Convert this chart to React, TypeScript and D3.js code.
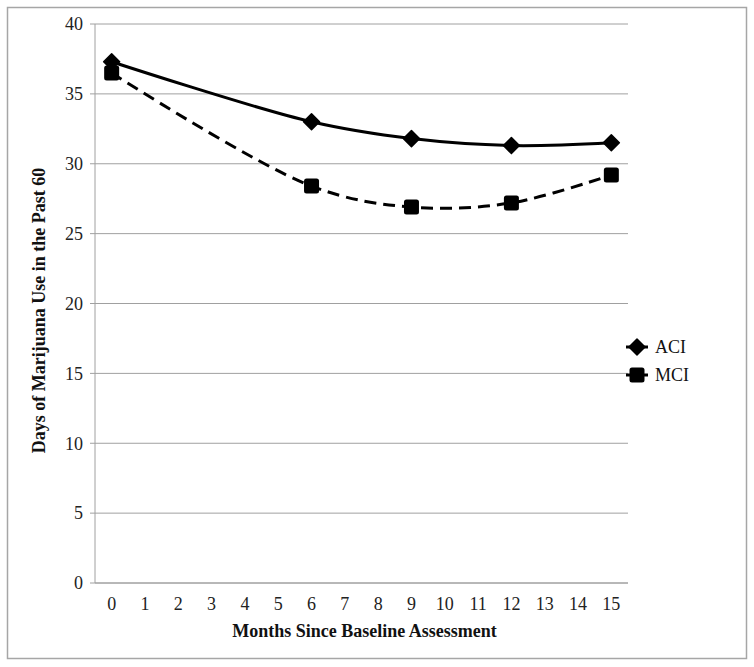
import React from "react";
import * as d3 from "d3";

const categories = ["0","1","2","3","4","5","6","7","8","9","10","11","12","13","14","15"];
const months = [0, 6, 9, 12, 15];
const aciValues = [37.3, 33.0, 31.8, 31.3, 31.5];
const mciValues = [36.5, 28.4, 26.9, 27.2, 29.2];
const yTicks = [0, 5, 10, 15, 20, 25, 30, 35, 40];
const seriesNames = ["ACI", "MCI"];

const W = 754, H = 667;
const L = 95, R = 628, T = 24, B = 583;

export default function App() {
  const x = d3.scaleBand<string>().domain(categories).range([L, R]);
  const xc = (m: number) => (x(String(m)) as number) + x.bandwidth() / 2;
  const y = d3.scaleLinear().domain([0, 40]).range([B, T]);
  const line = d3.line<number>()
    .x((_, i) => xc(months[i]))
    .y((d) => y(d))
    .curve(d3.curveCatmullRom.alpha(0.5));
  const font = "Liberation Serif, serif";
  const diamond = (cx: number, cy: number, r: number) =>
    `M${cx},${cy - r}L${cx + r},${cy}L${cx},${cy + r}L${cx - r},${cy}Z`;
  return (
    <svg width={W} height={H} style={{ position: "absolute", left: 0, top: 0, fontFamily: font }}>
      <rect x={0} y={0} width={W} height={H} fill="#fff" />
      <rect x={7.5} y={7.5} width={739} height={651} fill="#fff" stroke="#a6a6a6" strokeWidth={1.5} />
      {yTicks.map((t) => (
        <g key={t}>
          <line x1={L - 5} x2={R} y1={y(t)} y2={y(t)} stroke="#a0a0a0" strokeWidth={1} />
          <text x={L - 12} y={y(t)} dy="0.35em" textAnchor="end" fontSize={18} fill="#222">{t}</text>
        </g>
      ))}
      <line x1={L} x2={L} y1={T} y2={B} stroke="#a0a0a0" strokeWidth={1} />
      <line x1={L} x2={R} y1={B} y2={B} stroke="#a0a0a0" strokeWidth={1.2} />
      {categories.map((c) => (
        <text key={c} x={(x(c) as number) + x.bandwidth() / 2} y={B + 27} textAnchor="middle" fontSize={18} fill="#222">{c}</text>
      ))}
      <text x={(L + R) / 2 + 3} y={637} textAnchor="middle" fontSize={18} fontWeight="bold" fill="#111">Months Since Baseline Assessment</text>
      <text transform={`translate(45,${(T + B) / 2 + 7}) rotate(-90)`} textAnchor="middle" fontSize={18} fontWeight="bold" fill="#111">Days of Marijuana Use in the Past 60</text>

      <path d={line(mciValues) || ""} fill="none" stroke="#000" strokeWidth={3} strokeDasharray="12,7" />
      <path d={line(aciValues) || ""} fill="none" stroke="#000" strokeWidth={3} />
      {aciValues.map((v, i) => (
        <path key={"a" + i} d={diamond(xc(months[i]), y(v), 8)} fill="#000" stroke="#000" strokeWidth={1.5} strokeLinejoin="round" />
      ))}
      {mciValues.map((v, i) => (
        <rect key={"m" + i} x={xc(months[i]) - 7.5} y={y(v) - 7.5} width={15} height={15} rx={2.5} fill="#000" />
      ))}

      <line x1={626} x2={648} y1={347} y2={347} stroke="#000" strokeWidth={3} />
      <path d={diamond(637, 347, 8)} fill="#000" stroke="#000" strokeWidth={1.5} strokeLinejoin="round" />
      <text x={655} y={347} dy="0.35em" fontSize={18} fill="#111">{seriesNames[0]}</text>
      <line x1={626} x2={648} y1={375} y2={375} stroke="#000" strokeWidth={3} />
      <rect x={629.5} y={367.5} width={15} height={15} rx={2.5} fill="#000" />
      <text x={655} y={375} dy="0.35em" fontSize={18} fill="#111">{seriesNames[1]}</text>
    </svg>
  );
}
